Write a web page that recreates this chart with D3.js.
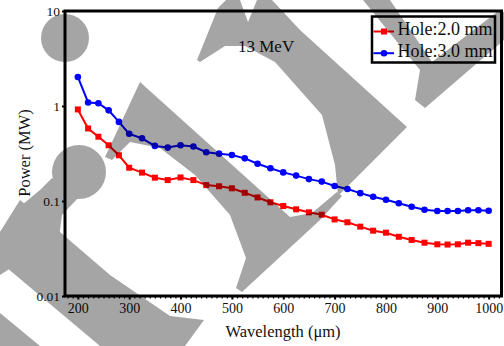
<!DOCTYPE html>
<html>
<head>
<meta charset="utf-8">
<script src="https://cdn.jsdelivr.net/npm/d3@7"></script>
<style>
body { margin: 0; background: #fff; }
svg { display: block; font-family: "Liberation Serif", "Times New Roman", serif; }
</style>
</head>
<body>
<svg id="chart" width="504" height="346"></svg>
<script>
// wavelength (um) of each sample
const wavelength = [200, 220, 240, 260, 280, 300, 325, 350, 375, 400, 425, 450, 475, 500, 525, 550, 575, 600,
    625, 650, 675, 700, 725, 750, 775, 800, 825, 850, 875, 900, 920, 940, 960, 980, 1000]
// power (MW), hole 2.0 mm
const hole20 = [0.92, 0.58, 0.475, 0.386, 0.303, 0.224, 0.199, 0.176, 0.166, 0.177, 0.166, 0.147, 0.143, 0.136,
    0.122, 0.109, 0.097, 0.0885, 0.0817, 0.076, 0.0717, 0.064, 0.0597, 0.0537, 0.0487, 0.0464, 0.042, 0.0389,
    0.0364, 0.035, 0.0348, 0.035, 0.0364, 0.036, 0.0354]
// power (MW), hole 3.0 mm
const hole30 = [2.02, 1.09, 1.07, 0.90, 0.68, 0.51, 0.457, 0.38, 0.365, 0.386, 0.375, 0.326, 0.315, 0.305,
    0.281, 0.247, 0.221, 0.200, 0.185, 0.170, 0.160, 0.144, 0.134, 0.121, 0.111, 0.103, 0.0946, 0.087,
    0.081, 0.0785, 0.0785, 0.0785, 0.0798, 0.080, 0.079]
const seriesNames = ['Hole:2.0 mm', 'Hole:3.0 mm']
const xTicks = [200, 300, 400, 500, 600, 700, 800, 900, 1000]
const yTicks = [0.01, 0.1, 1, 10]

const svg = d3.select('#chart')
const x = d3.scaleLinear().domain([175, 1025]).range([65, 501.5])
const y = d3.scaleLog().domain([0.01, 10]).range([296, 11])

// minor ticks along the bottom
svg.append('g')
    .attr('transform', 'translate(0,296)')
    .call(d3.axisBottom(x).tickValues(d3.range(180, 1021, 10)).tickSize(2.5).tickFormat(''))
    .call(g => g.select('.domain').remove())
    .call(g => g.selectAll('line').attr('stroke', '#000').attr('stroke-width', 1.2))

const xAxis = svg.append('g')
    .attr('transform', 'translate(0,296)')
    .call(d3.axisBottom(x).tickValues(xTicks).tickSize(3.5).tickPadding(4).tickFormat(d3.format('d')))
xAxis.select('.domain').remove()
xAxis.selectAll('line').attr('stroke', '#000').attr('stroke-width', 2)
xAxis.selectAll('text').attr('font-family', 'Liberation Serif').attr('font-size', 14).attr('fill', '#111')

const yAxis = svg.append('g')
    .attr('transform', 'translate(65,0)')
    .call(d3.axisLeft(y).tickValues(yTicks).tickSize(3).tickPadding(2).tickFormat(d => String(d)))
yAxis.select('.domain').remove()
yAxis.selectAll('line').attr('stroke', '#000').attr('stroke-width', 2)
yAxis.selectAll('text').attr('font-family', 'Liberation Serif').attr('font-size', 13.5).attr('fill', '#111')

// plot frame
svg.append('rect')
    .attr('x', x.range()[0]).attr('y', y.range()[1])
    .attr('width', x.range()[1] - x.range()[0]).attr('height', y.range()[0] - y.range()[1])
    .attr('fill', 'none').attr('stroke', '#000').attr('stroke-width', 3)

const series = [
    { name: seriesNames[0], values: hole20, color: '#ff0000', shape: 'square' },
    { name: seriesNames[1], values: hole30, color: '#0000ff', shape: 'circle' }
]

const line = d3.line()
    .x((d, i) => x(wavelength[i]))
    .y(d => y(d))

const drawMarker = (g, shape, color) => {
    if (shape === 'square') {
        g.append('rect').attr('x', -3).attr('y', -3).attr('width', 6).attr('height', 6).attr('fill', color)
    } else {
        g.append('circle').attr('r', 3.3).attr('fill', color)
    }
}

series.forEach(s => {
    svg.append('path')
        .datum(s.values)
        .attr('d', line)
        .attr('fill', 'none')
        .attr('stroke', s.color)
        .attr('stroke-width', 2)
    svg.append('g').selectAll('g')
        .data(s.values)
        .join('g')
        .attr('transform', (d, i) => `translate(${x(wavelength[i])},${y(d)})`)
        .each(function () { drawMarker(d3.select(this), s.shape, s.color) })
})

// legend
const legend = svg.append('g')
legend.append('rect')
    .attr('x', 372).attr('y', 16.5).attr('width', 123).attr('height', 46)
    .attr('fill', '#fff').attr('stroke', '#000').attr('stroke-width', 2.5)
series.forEach((s, i) => {
    const row = legend.append('g').attr('transform', `translate(0,${31.5 + i * 21.7})`)
    row.append('line').attr('x1', 373.5).attr('x2', 394).attr('stroke', s.color).attr('stroke-width', 2)
    drawMarker(row.append('g').attr('transform', 'translate(384,0)'), s.shape, s.color)
    row.append('text').attr('x', 397.5).attr('y', 3.8)
        .attr('font-size', 18).attr('fill', '#111').text(s.name)
})

svg.append('text').attr('x', 238).attr('y', 52).attr('font-size', 17).attr('fill', '#111').text('13 MeV')

svg.append('text')
    .attr('x', 283).attr('y', 337).attr('text-anchor', 'middle')
    .attr('font-size', 16.5).attr('fill', '#111').text('Wavelength (μm)')
svg.append('text')
    .attr('transform', 'translate(30,153) rotate(-90)').attr('text-anchor', 'middle')
    .attr('font-size', 16.5).attr('fill', '#111').text('Power (MW)')

// grey watermark laid over the figure
const mark = svg.append('g').attr('opacity', 0.35).attr('fill', '#000')
mark.append('circle').attr('cx', 65).attr('cy', 38).attr('r', 24)
mark.append('circle').attr('cx', 79).attr('cy', 172).attr('r', 27)
const shapes = [
    'M52,178 L78,198 L62,215 L58,245 L20,262 L0,275 L0,232 L22,205 L40,190 Z',
    'M20,200 L60,232 L110,275 L170,316 L204,320 L185,346 L100,346 L0,262 L0,232 Z',
    'M0,313 L40,346 L0,346 Z',
    'M140,82 L290,217 L312,213 L337,192 L342,196 L320,220 L242,292 L236,288 L246,258 L230,215 L195,175 L160,148 L130,142 L112,160 L105,157 Z',
    'M197,60 L218,8 L226,0 L240,0 L248,22 L257,0 L272,0 L300,30 L407,127 L338,196 L335,165 L322,115 L275,62 L245,46 L225,46 L200,62 Z',
    'M363,0 L390,0 L432,62 L497,12 L504,12 L504,40 L425,108 L415,100 L420,70 Z'
]
shapes.forEach(p => mark.append('path').attr('d', p))
</script>
</body>
</html>
